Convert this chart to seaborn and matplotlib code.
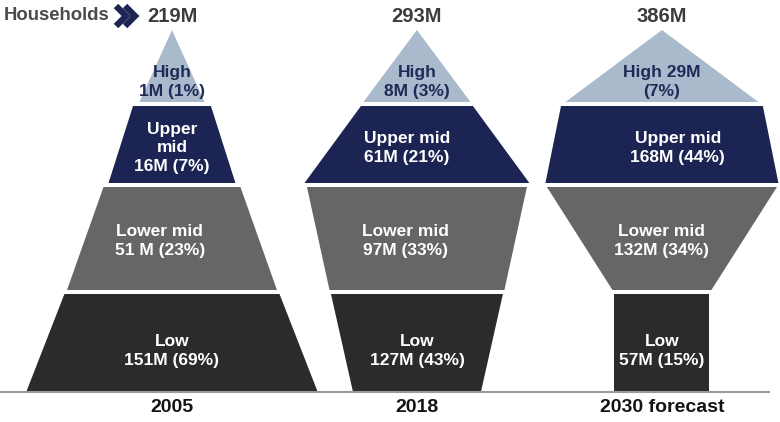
import matplotlib
matplotlib.use("Agg")
import matplotlib.pyplot as plt
import seaborn as sns

# data
years = ["2005", "2018", "2030 forecast"]
totals_m = [219, 293, 386]
segments = ["Low", "Lower mid", "Upper mid", "High"]
low_m = [151, 127, 57]
low_pct = [69, 43, 15]
lower_mid_m = [51, 97, 132]
lower_mid_pct = [23, 33, 34]
upper_mid_m = [16, 61, 168]
upper_mid_pct = [7, 21, 44]
high_m = [1, 8, 29]
high_pct = [1, 3, 7]

# shape of each band: (top width, bottom width) in column-spacing units
low_widths = [(0.878, 1.19), (0.702, 0.522), (0.388, 0.388)]
lower_mid_widths = [(0.559, 0.857), (0.898, 0.714), (0.939, 0.404)]
upper_mid_widths = [(0.318, 0.518), (0.457, 0.918), (0.824, 0.951)]
high_widths = [(0.0, 0.265), (0.0, 0.437), (0.0, 0.788)]

values = {"Low": low_m, "Lower mid": lower_mid_m, "Upper mid": upper_mid_m, "High": high_m}
pcts = {"Low": low_pct, "Lower mid": lower_mid_pct, "Upper mid": upper_mid_pct, "High": high_pct}
widths = {"Low": low_widths, "Lower mid": lower_mid_widths, "Upper mid": upper_mid_widths, "High": high_widths}

# label wording quirks in the original
label_override = {
    ("2005", "Upper mid"): "Upper\nmid\n16M (7%)",
    ("2005", "Lower mid"): "Lower mid\n51 M (23%)",
    ("2030 forecast", "High"): "High 29M\n(7%)",
}

# layout
colors = {"Low": "#2b2b2b", "Lower mid": "#666666", "Upper mid": "#1b2452", "High": "#a9bacd"}
text_colors = {"Low": "white", "Lower mid": "white", "Upper mid": "white", "High": "#1e2a55"}
band_y = {"Low": (0, 98), "Lower mid": (102, 205), "Upper mid": (209, 286), "High": (290, 362)}
label_y = {"Low": 41, "Lower mid": 151, "Upper mid": 244, "High": 310}
label_dx = {("2005", "Lower mid"): -0.05, ("2018", "Upper mid"): -0.04,
            ("2018", "Lower mid"): -0.045, ("2030 forecast", "Upper mid"): 0.065}

sns.set_theme(style="white")
plt.rcParams["font.family"] = ["Liberation Sans", "DejaVu Sans"]

fig = plt.figure(figsize=(7.8, 4.22), dpi=100)
ax = fig.add_axes([0, 0, 1, 1])
ax.set_xlim(-0.702, 2.482)
ax.set_ylim(-30, 392)
ax.axis("off")

for i, year in enumerate(years):
    cx = i
    for seg in segments:
        top_w, bot_w = widths[seg][i]
        y0, y1 = band_y[seg]
        xs = [cx - bot_w / 2, cx + bot_w / 2, cx + top_w / 2, cx - top_w / 2]
        ys = [y0, y0, y1, y1]
        ax.fill(xs, ys, color=colors[seg], lw=0)
        txt = label_override.get((year, seg), f"{seg}\n{values[seg][i]}M ({pcts[seg][i]}%)")
        ax.text(cx + label_dx.get((year, seg), 0), label_y[seg], txt, ha="center", va="center",
                color=text_colors[seg], fontsize=12.5, fontweight="bold", linespacing=1.3)
    ax.text(cx, -16, year, ha="center", va="center", fontsize=14, fontweight="bold", color="#141414")
    ax.text(cx, 376, f"{totals_m[i]}M", ha="center", va="center", fontsize=14.5,
            fontweight="bold", color="#3c3c3c")

# baseline
ax.plot([-0.702, 2.44], [0, 0], color="#9a9a9a", lw=1.5, solid_capstyle="butt")

# header
fig.text(4 / 780, 1 - 16 / 422, "Households", ha="left", va="center", fontsize=13.3,
         fontweight="bold", color="#4a4a4a")
for x0 in (116, 125):
    xs = [x0 / 780, (x0 + 10) / 780, x0 / 780]
    ys = [1 - 6 / 422, 1 - 16 / 422, 1 - 26 / 422]
    fig.lines.append(plt.Line2D(xs, ys, transform=fig.transFigure, color="#1b2452",
                                lw=4.5, solid_joinstyle="miter", solid_capstyle="butt"))

fig.savefig("out.png", dpi=100)
